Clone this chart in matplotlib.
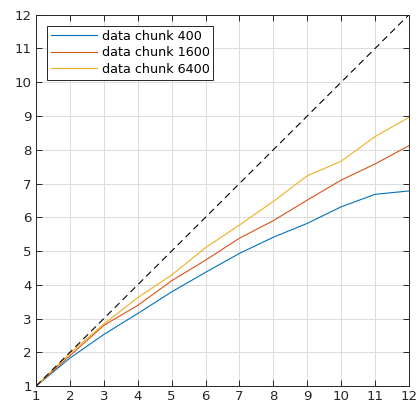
import matplotlib
matplotlib.use("Agg")
import matplotlib.pyplot as plt

x = [1, 2, 3, 4, 5, 6, 7, 8, 9, 10, 11, 12]
chunk400 = [1.0, 1.83, 2.53, 3.15, 3.79, 4.37, 4.93, 5.41, 5.82, 6.31, 6.68, 6.78]
chunk1600 = [1.0, 1.9, 2.8, 3.39, 4.12, 4.73, 5.38, 5.9, 6.51, 7.1, 7.58, 8.12]
chunk6400 = [1.0, 1.97, 2.84, 3.62, 4.29, 5.1, 5.77, 6.47, 7.23, 7.66, 8.39, 8.96]
ideal = [1, 12]
labels = ["data chunk 400", "data chunk 1600", "data chunk 6400"]
ticks = list(range(1, 13))

fig = plt.figure(figsize=(4.19, 4.09), dpi=100)
ax = fig.add_axes([0.086, 0.056, 0.89, 0.908])

ax.plot(x, chunk400, color="#0072BD", lw=0.8, label=labels[0])
ax.plot(x, chunk1600, color="#D95319", lw=0.8, label=labels[1])
ax.plot(x, chunk6400, color="#EDB120", lw=0.8, label=labels[2])
ax.plot(ideal, ideal, color="black", lw=0.8, ls=(0, (6, 4)))

ax.set_xlim(1, 12)
ax.set_ylim(1, 12)
ax.set_xticks(ticks)
ax.set_yticks(ticks)
ax.grid(True, color="#dcdcdc", lw=0.7)
ax.set_axisbelow(True)
ax.tick_params(direction="in", length=4, width=0.7, colors="#262626",
               labelsize=9.6, top=True, right=True, pad=3)
for s in ax.spines.values():
    s.set_color("#262626")
    s.set_linewidth(0.7)

leg = ax.legend(loc="upper left", bbox_to_anchor=(0.03, 0.97), fontsize=9.2,
                fancybox=False, framealpha=1, edgecolor="#262626",
                handlelength=3.6, borderpad=0.3, labelspacing=0.28,
                handletextpad=0.35, borderaxespad=0)
leg.get_frame().set_linewidth(0.7)

fig.savefig("out.png", dpi=100)
